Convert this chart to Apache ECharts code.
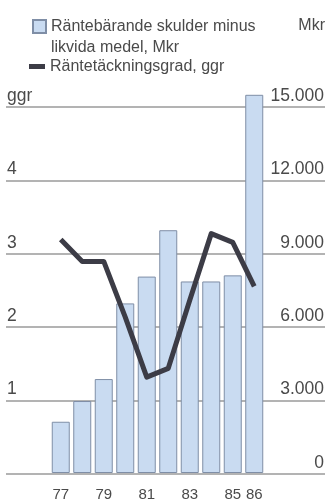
<!DOCTYPE html>
<html>
<head>
<meta charset="utf-8">
<script src="https://cdn.jsdelivr.net/npm/echarts@6/dist/echarts.min.js"></script>
<style>
  html, body { margin: 0; padding: 0; background: #ffffff; }
  #chart { width: 328px; height: 502px; }
</style>
</head>
<body>
<div id="chart"></div>
<script>
// Years on the category axis
var years = ['77', '78', '79', '80', '81', '82', '83', '84', '85', '86'];
// Interest-bearing liabilities minus liquid funds, Mkr (bars, right scale)
var skulder = [2100, 2950, 3850, 6950, 8050, 9950, 7850, 7850, 8100, 15500];
// Interest coverage ratio, ggr (line, left scale)
var ggr = [3.19, 2.89, 2.89, 2.13, 1.31, 1.43, 2.36, 3.27, 3.15, 2.55];
// Years that carry a tick label
var labelledYears = ['77', '79', '81', '83', '85', '86'];

var barName = 'Räntebärande skulder minus\nlikvida medel, Mkr';
var lineName = 'Räntetäckningsgrad, ggr';

var FONT = '"Liberation Sans", Arial, sans-serif';
var TEXT = '#4a4a4a';

var chart = echarts.init(document.getElementById('chart'), null, { renderer: 'canvas' });

chart.setOption({
  animation: false,
  backgroundColor: '#ffffff',
  textStyle: { fontFamily: FONT },
  legend: [
    {
      data: [barName],
      orient: 'vertical',
      left: 32,
      top: -5,
      padding: 0,
      itemWidth: 13,
      itemHeight: 13,
      icon: 'rect',
      selectedMode: false,
      // a blank leading line keeps the icon level with the first text line
      formatter: function (name) { return '\n' + name; },
      textStyle: { fontFamily: FONT, fontSize: 16, color: TEXT, lineHeight: 21 }
    },
    {
      data: [lineName],
      orient: 'vertical',
      left: 29,
      top: 56,
      padding: 0,
      itemWidth: 16,
      itemHeight: 5,
      icon: 'rect',
      selectedMode: false,
      textStyle: { fontFamily: FONT, fontSize: 16, color: TEXT, lineHeight: 21 }
    }
  ],
  grid: [
    // full-width frame that carries the gridlines and both value scales
    { left: 6, right: 3, top: 107, bottom: 28 },
    // plotting area for the yearly bars and the line
    { left: 50, right: 63, top: 107, bottom: 28 }
  ],
  xAxis: [
    { gridIndex: 0, type: 'value', show: false, min: 0, max: 1 },
    {
      gridIndex: 1,
      type: 'category',
      data: years,
      boundaryGap: true,
      axisLine: { show: false },
      axisTick: { show: false },
      axisLabel: {
        interval: function (i, v) { return labelledYears.indexOf(v) >= 0; },
        fontFamily: FONT,
        fontSize: 15,
        color: TEXT,
        margin: 14
      }
    }
  ],
  yAxis: [
    {
      gridIndex: 0,
      type: 'value',
      position: 'left',
      min: 0, max: 5, interval: 1,
      axisLine: { show: false },
      axisTick: { show: false },
      splitLine: { show: true, lineStyle: { color: '#9a9a9a', width: 1.5 } },
      axisLabel: {
        inside: true,
        margin: 1,
        verticalAlign: 'bottom',
        padding: [0, 0, 2, 0],
        fontFamily: FONT,
        fontSize: 17.5,
        color: TEXT,
        formatter: function (v) { return v === 5 ? 'ggr' : (v === 0 ? '' : String(v)); }
      }
    },
    {
      gridIndex: 0,
      type: 'value',
      position: 'right',
      min: 0, max: 15000, interval: 3000,
      name: 'Mkr',
      nameLocation: 'end',
      nameGap: 81,
      nameTextStyle: { fontFamily: FONT, fontSize: 16, color: TEXT, align: 'right', verticalAlign: 'middle' },
      axisLine: { show: false },
      axisTick: { show: false },
      splitLine: { show: false },
      axisLabel: {
        inside: true,
        margin: 1,
        verticalAlign: 'bottom',
        padding: [0, 0, 2, 0],
        fontFamily: FONT,
        fontSize: 17.5,
        color: TEXT,
        formatter: function (v) { return v === 0 ? '0' : (v / 1000).toFixed(3); }
      }
    },
    { gridIndex: 1, type: 'value', min: 0, max: 5, show: false },
    { gridIndex: 1, type: 'value', min: 0, max: 15000, show: false }
  ],
  series: [
    {
      name: barName,
      type: 'bar',
      xAxisIndex: 1,
      yAxisIndex: 3,
      data: skulder,
      barWidth: 18,
      clip: false,
      itemStyle: { color: '#c9dbf1', borderColor: '#7f8ea6', borderWidth: 1 }
    },
    {
      name: lineName,
      type: 'line',
      xAxisIndex: 1,
      yAxisIndex: 2,
      data: ggr,
      symbol: 'none',
      clip: false,
      lineStyle: { color: '#3c3c46', width: 5, join: 'round' },
      itemStyle: { color: '#3c3c46' },
      z: 3
    }
  ]
});
</script>
</body>
</html>
